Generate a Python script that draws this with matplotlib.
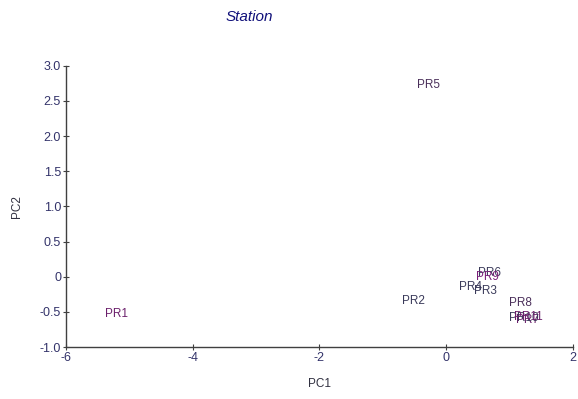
import matplotlib
matplotlib.use('Agg')
import matplotlib.pyplot as plt

# PCA scores per station
stations = ['PR1', 'PR2', 'PR3', 'PR4', 'PR5', 'PR6', 'PR7', 'PR8', 'PR9', 'PR10', 'PR11']
pc1 = [-5.2, -0.52, 0.62, 0.38, -0.27, 0.69, 1.29, 1.17, 0.65, 1.22, 1.30]
pc2 = [-0.53, -0.34, -0.20, -0.14, 2.73, 0.06, -0.62, -0.37, 0.00, -0.58, -0.57]
colors = ['#6b1f6b', '#3a3a5a', '#3a3a5a', '#3a3a5a', '#4a2f5a', '#3a3a5a',
          '#6b1f6b', '#4a2f5a', '#7a1f7a', '#3a3a5a', '#6b1f6b']

plt.rcParams['font.family'] = ['Liberation Sans', 'DejaVu Sans']
plt.rcParams['axes.unicode_minus'] = False

fig = plt.figure(figsize=(5.78, 3.99), dpi=100)
ax = fig.add_axes([0.114, 0.130, 0.877, 0.705])

for name, x, y, c in zip(stations, pc1, pc2, colors):
    ax.text(x, y, name, color=c, fontsize=8.5, ha='center', va='center')

ax.set_xlim(-6, 2)
ax.set_ylim(-1.0, 3.0)
ax.set_xticks([-6, -4, -2, 0, 2])
ax.set_yticks([-1.0, -0.5, 0, 0.5, 1.0, 1.5, 2.0, 2.5, 3.0])
ax.set_yticklabels(['-1.0', '-0.5', '0', '0.5', '1.0', '1.5', '2.0', '2.5', '3.0'])

for side in ['top', 'right']:
    ax.spines[side].set_visible(False)
for side in ['left', 'bottom']:
    ax.spines[side].set_color('#404040')
    ax.spines[side].set_linewidth(1.0)

ax.tick_params(direction='inout', length=5, width=0.8, color='#404040',
               labelsize=9, labelcolor='#33336a', pad=1)

ax.set_xlabel('PC1', fontsize=8.5, color='#303040', labelpad=10)
ax.set_ylabel('PC2', fontsize=8.5, color='#303040', labelpad=12)

fig.text(0.431, 0.957, 'Station', fontsize=11, style='italic', color='#10107a',
         ha='center', va='center')

fig.savefig('out.png', dpi=100)
